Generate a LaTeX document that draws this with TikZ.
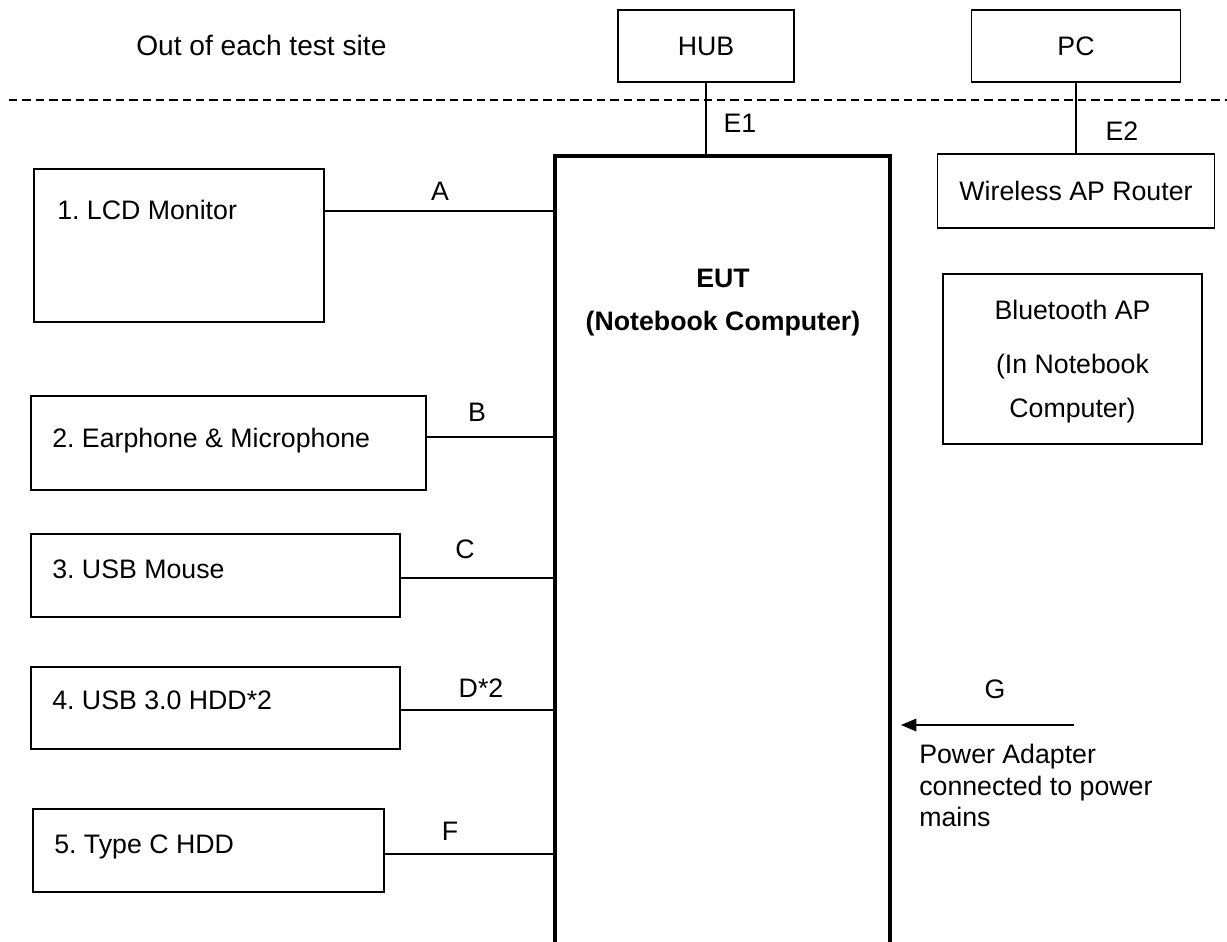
\documentclass[tikz,border=0pt]{standalone}
\usepackage{fontspec}
\setmainfont{Liberation Sans}
\usetikzlibrary{arrows.meta}
\newcommand{\lblfont}{\fontsize{19}{22}\selectfont}
\frenchspacing
\tikzset{
  devbox/.style={draw, line width=1.6pt, inner sep=0pt},
  netbox/.style={draw, line width=1.2pt, inner sep=0pt, minimum height=1.8cm},
  wire/.style={line width=1.1pt},
}

\begin{document}
\begin{tikzpicture}[x=0.025cm, y=-0.025cm]
                \tikzstyle{every node}+=[inner sep=0pt, font=\lblfont]
                \useasboundingbox (0,0) rectangle (1227,941);
                \clip (0,0) rectangle (1227,941);
                % outside the test site
                \node (site) [anchor=base west, font=\fontsize{20}{24}\selectfont] at (136,55) {Out of each test site};
                \draw [dashed, line width=1pt, dash pattern=on 6pt off 3.5pt] (9,100) -- (1227,100);
                \node [netbox, minimum width=4.4cm] (hub) at (706,46) {HUB};
                \node [netbox, minimum width=5.225cm] (pc) at (1076,46) {PC};
                % EUT
                \node [draw, line width=2.8pt, anchor=north, minimum width=8.375cm, minimum height=20.75cm] (eut) at (722.5,154) {};
                \node [anchor=base, font=\lblfont\bfseries] (eut1) at (723,287) {EUT};
                \node [anchor=base, font=\lblfont\bfseries] (eut2) at (723,330) {(Notebook Computer)};
                % wireless side
                \node [netbox, minimum width=6.925cm, minimum height=1.85cm] (router) at (1076,191) {Wireless AP Router};
                \node [netbox, minimum width=6.475cm, minimum height=4.25cm] (bt) at (1072.5,359) {};
                \node [anchor=base] (bt1) at (1072.5,319) {Bluetooth AP};
                \node [anchor=base] (bt2) at (1072.5,373) {(In Notebook};
                \node [anchor=base] (bt3) at (1072.5,417) {Computer)};
                \draw [wire] (hub) -- (eut.north -| hub);
                \node (le1) at (740,123) {E1};
                \draw [wire] (pc) -- (router);
                \node (le2) at (1122,131) {E2};
                % peripherals
                \node [devbox, minimum width=7.25cm, minimum height=3.825cm] (lcd) at (179,245.5) {};
                \node [anchor=base west] (lcdtxt) at (57,219) {1. LCD Monitor};
                \node [devbox, minimum width=9.875cm, minimum height=2.35cm] (ear) at (228.5,443) {};
                \node [anchor=base west] (eartxt) at (52,447) {2. Earphone \& Microphone};
                \node [devbox, minimum width=9.225cm, minimum height=2.075cm] (mouse) at (215.5,575.5) {};
                \node [anchor=base west] (mousetxt) at (52,578) {3. USB Mouse};
                \node [devbox, minimum width=9.225cm, minimum height=2.05cm] (hdd) at (215.5,708) {};
                \node [anchor=base west] (hddtxt) at (52,709) {4. USB 3.0 HDD*2};
                \node [devbox, minimum width=8.775cm, minimum height=2.075cm] (typec) at (208.5,850.5) {};
                \node [anchor=base west] (typectxt) at (54,853) {5. Type C HDD};
                \draw [wire] (lcd.east |- 0,211) -- (eut.west |- 0,211);
                \node (la) at (440,191) {A};
                \draw [wire] (ear.east |- 0,437) -- (eut.west |- 0,437);
                \node (lb) at (477,412) {B};
                \draw [wire] (mouse.east |- 0,578) -- (eut.west |- 0,578);
                \node (lc) at (465,549) {C};
                \draw [wire] (hdd.east |- 0,710) -- (eut.west |- 0,710);
                \node (ld) at (481,688) {D*2};
                \draw [wire] (typec.east |- 0,854) -- (eut.west |- 0,854);
                \node (lf) at (450,831) {F};
                % power
                \coordinate (gsrc) at (1074,725);
                \draw [wire, -{Triangle[length=11pt, width=9pt]}, shorten >=0.225cm] (gsrc) -- (eut.east |- gsrc);
                \node (lg) at (995,689) {G};
                \node [anchor=base west] (pw1) at (919,763) {Power Adapter};
                \node [anchor=base west] (pw2) at (919,795) {connected to power};
                \node [anchor=base west] (pw3) at (919,826) {mains};
\end{tikzpicture}
\end{document}
